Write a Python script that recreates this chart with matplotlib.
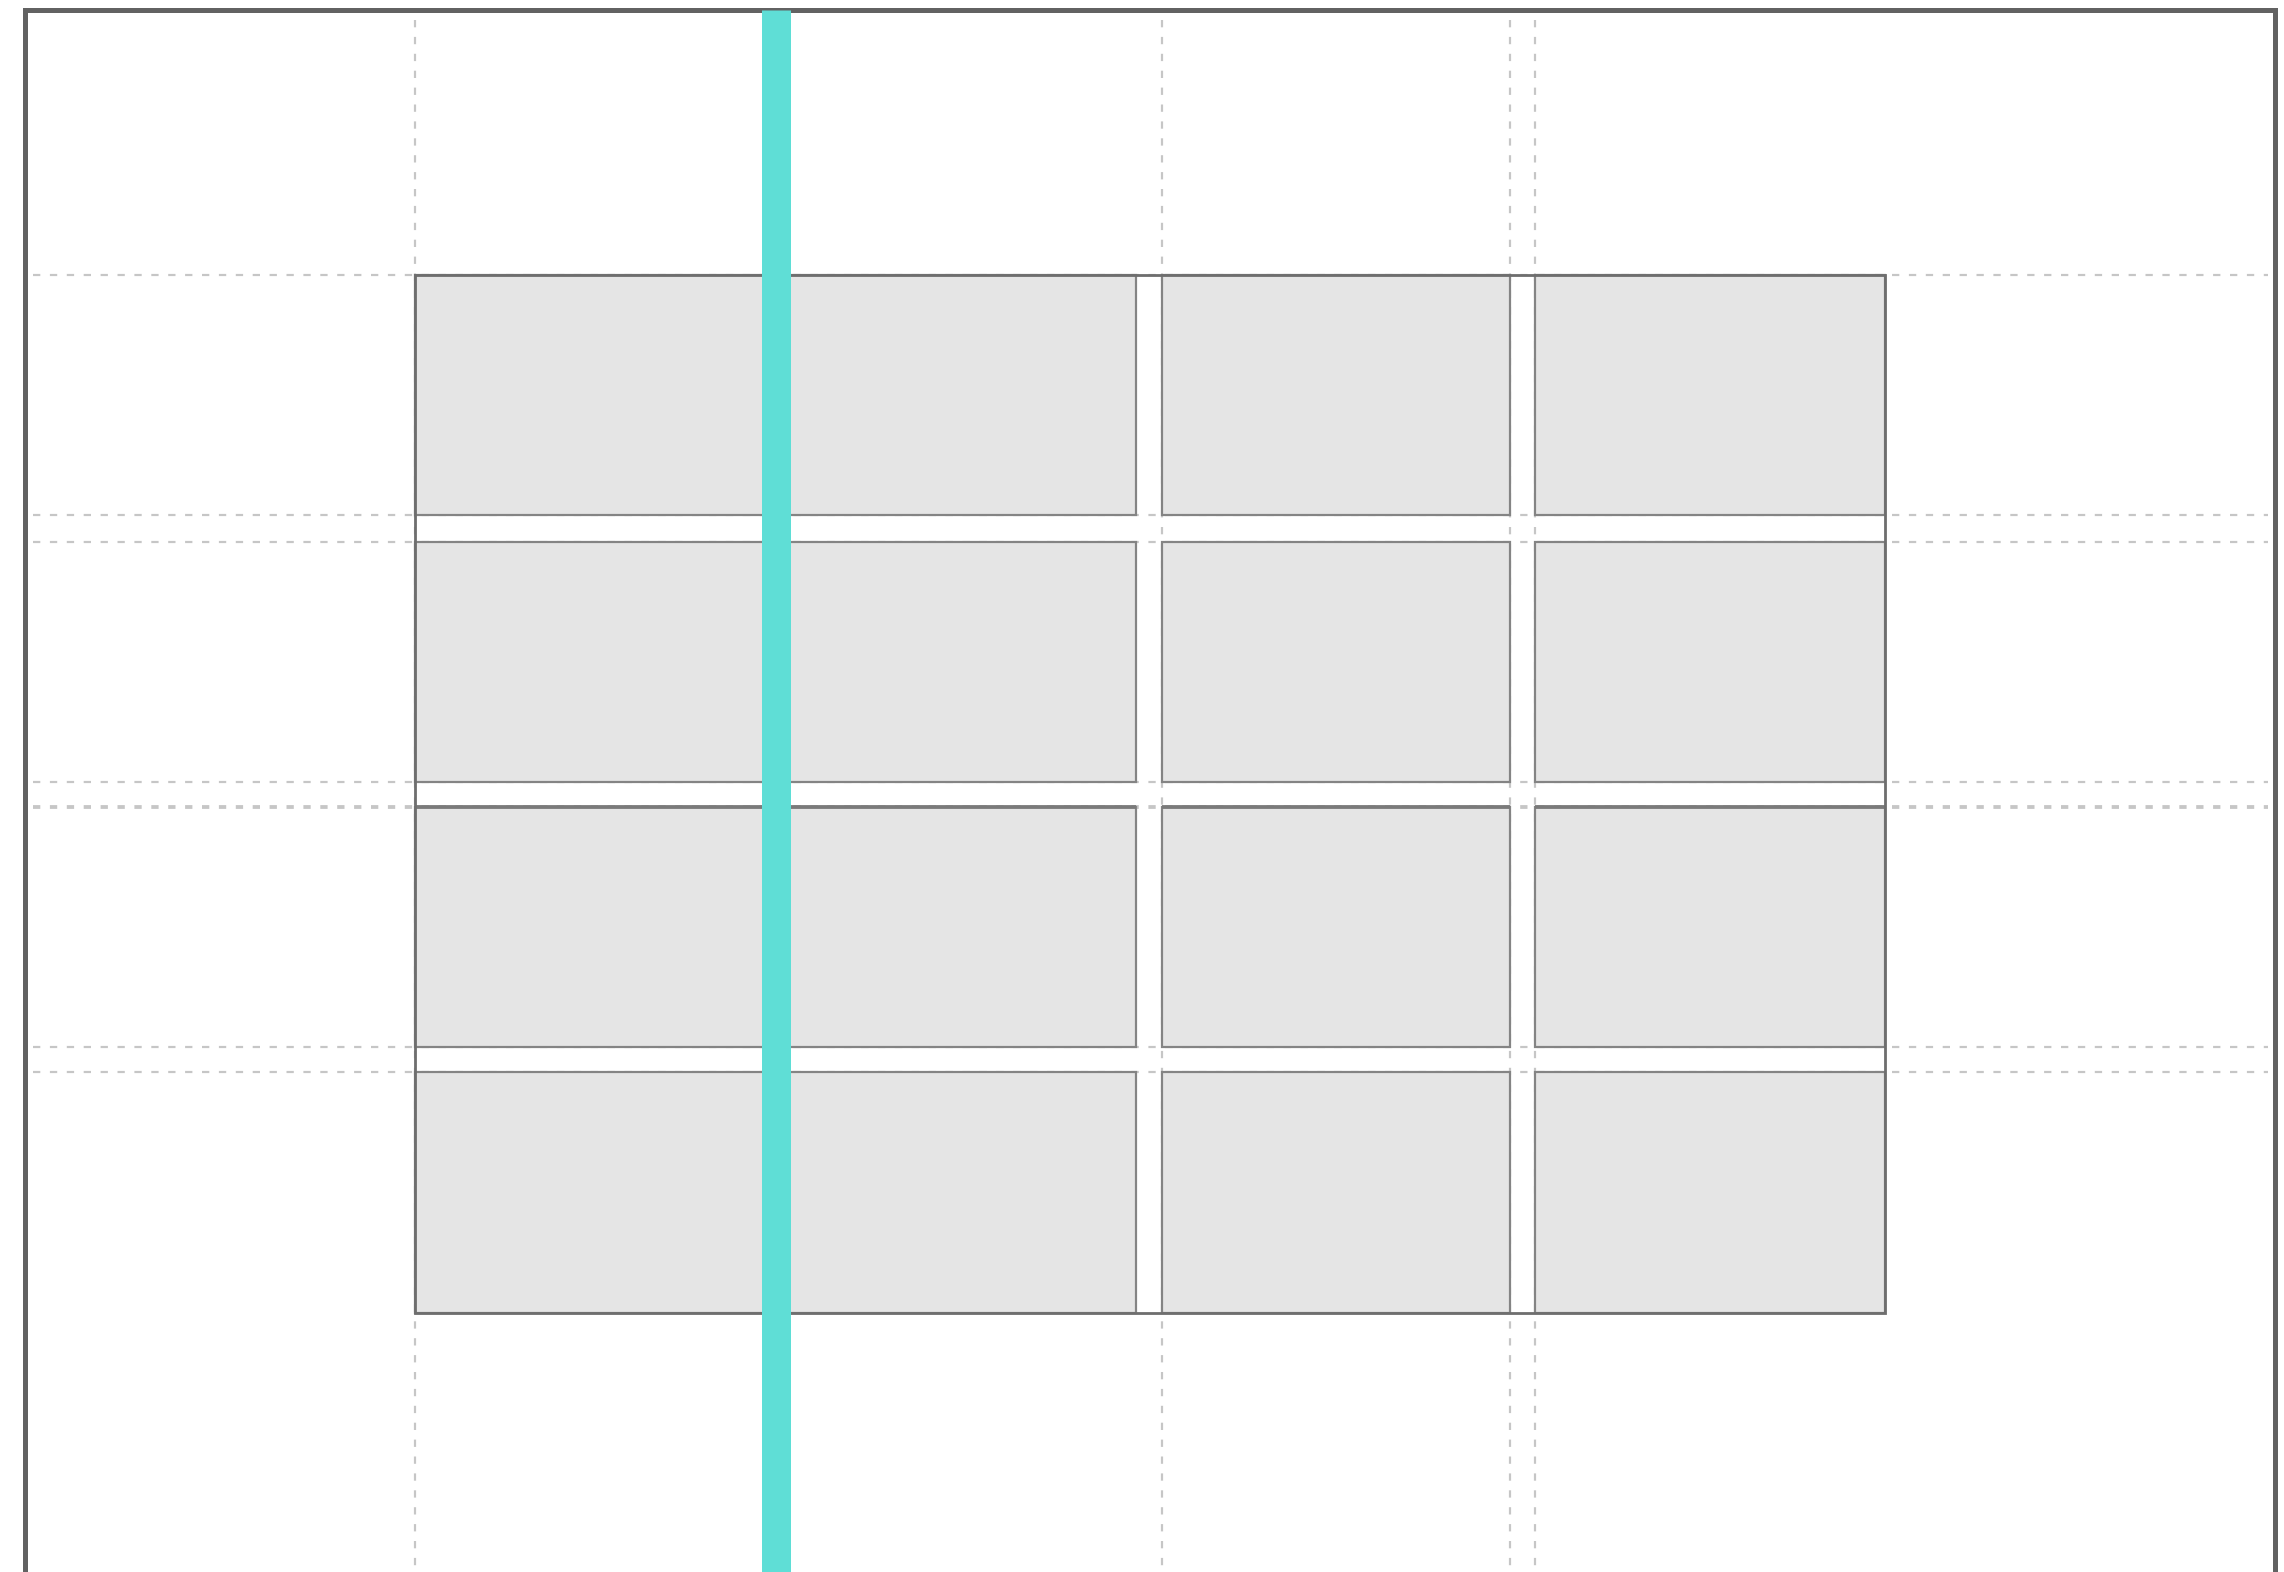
import matplotlib
matplotlib.use("Agg")
import matplotlib.pyplot as plt
from matplotlib.patches import Rectangle

# ---- layout data (pixel units of the canvas) ----
col_left = [415, 1162, 1535]
col_right = [1136, 1510, 1885]
row_top = [275, 542, 807, 1072]
row_bottom = [515, 782, 1047, 1313]
guide_x = [415, 1162, 1510, 1535]
guide_y = [275, 515, 542, 782, 807, 1047, 1072]
marker_x = [775.5]

W, H, DPI = 2284, 1572, 100
PX = 72.0 / DPI  # points per pixel

plt.rcParams['lines.scale_dashes'] = False
fig = plt.figure(figsize=(W / DPI, H / DPI), dpi=DPI)
fig.patch.set_facecolor('white')

ax_l, ax_r, ax_t = 25.5, 2274.5, 9.8
ax = fig.add_axes([ax_l / W, 0, (ax_r - ax_l) / W, (H - ax_t) / H])
ax.set_xlim(ax_l, ax_r)
ax.set_ylim(H, ax_t)
ax.set_xticks([])
ax.set_yticks([])
for side in ['left', 'right', 'top']:
    ax.spines[side].set_color('#626262')
    ax.spines[side].set_linewidth(5 * PX)
ax.spines['bottom'].set_visible(False)

dash = (0, (7.3 * PX, 9.6 * PX))
guide_color = '#c6c6c6'
ax.vlines(guide_x, 20, H + 5, colors=guide_color, lw=2.2 * PX,
          linestyles=[dash], zorder=1)
for gy in guide_y:
    lw = 3.8 if gy == 807 else 2.2
    ax.hlines(gy, 33, 2268, colors=guide_color, lw=lw * PX,
              linestyles=[dash], zorder=1)

# grid of cells
for (t, b) in zip(row_top, row_bottom):
    for (l, r) in zip(col_left, col_right):
        ax.add_patch(Rectangle((l, t), r - l, b - t, facecolor='#e5e5e5',
                               edgecolor='#848484', lw=2.2 * PX, zorder=2))
        if t == 807:
            ax.plot([l, r], [t, t], color='#7a7a7a', lw=3.8 * PX, zorder=2.5,
                    solid_capstyle='butt')

# outer bounding box
ax.add_patch(Rectangle((col_left[0], row_top[0]),
                       col_right[-1] - col_left[0], row_bottom[-1] - row_top[0],
                       facecolor='none', edgecolor='#6e6e6e', lw=2.8 * PX, zorder=3))

for mx in marker_x:
    ax.axvline(mx, color='#5fded6', lw=29 * PX, zorder=5, solid_capstyle='butt')

fig.savefig('out.png', dpi=DPI, facecolor='white')
